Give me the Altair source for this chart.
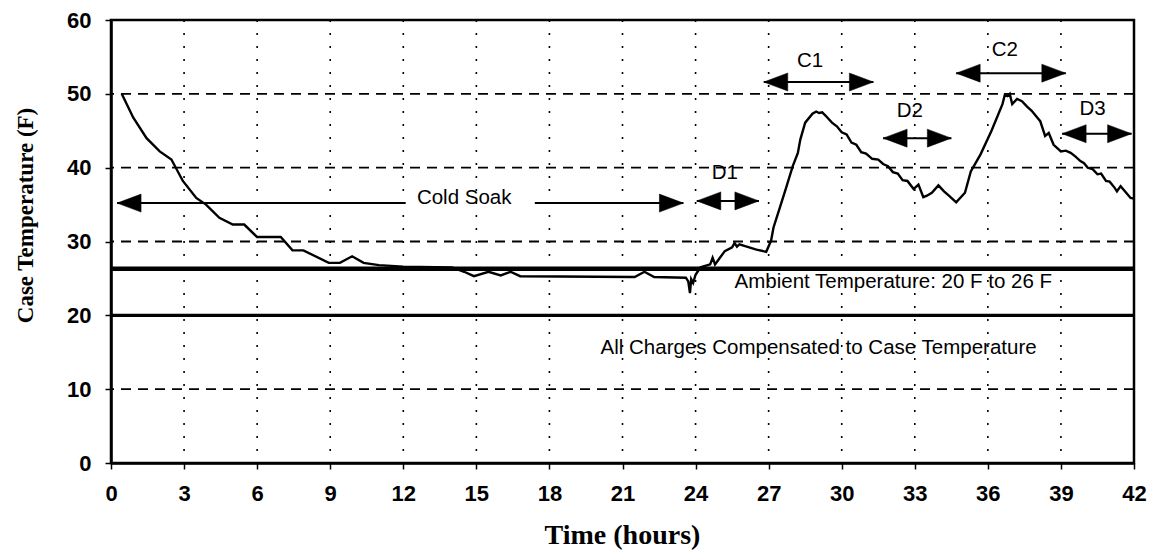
import altair as alt
import pandas as pd

# ---- data ----
time_h = [0.44, 0.91, 1.46, 2.0, 2.48, 2.95, 3.5, 3.9, 4.45, 5.0, 5.47, 6.0, 6.97, 7.45, 7.9,
          8.94, 9.4, 9.9, 10.37, 11.0, 12.0, 14.0, 14.5, 14.9, 15.5, 16.0, 16.4, 16.8, 21.5,
          21.9, 22.3, 23.6, 23.7, 23.77, 23.82, 23.9, 24.0, 24.2, 24.6, 24.7, 24.8, 25.0, 25.2,
          25.5, 25.6, 25.7, 25.8, 26.0, 26.5, 26.9, 27.1, 27.2, 27.45, 27.7, 27.99, 28.2, 28.3,
          28.5, 28.8, 28.95, 29.07, 29.2, 29.35, 29.6, 29.8, 30.0, 30.2, 30.4, 30.6, 30.8, 31.0,
          31.25, 31.5, 31.7, 31.9, 32.1, 32.3, 32.5, 32.7, 32.95, 33.15, 33.35, 33.5, 33.7, 33.97,
          34.2, 34.4, 34.7, 35.06, 35.3, 35.7, 36.15, 36.6, 36.7, 36.8, 36.9, 37.0, 37.2, 37.4,
          37.6, 37.8, 38.0, 38.15, 38.35, 38.5, 38.7, 39.0, 39.2, 39.4, 39.6, 39.8, 39.95, 40.1,
          40.3, 40.5, 40.65, 40.85, 41.0, 41.2, 41.3, 41.45, 41.6, 41.86, 42.0]
case_temp = [50.0, 46.8, 44.0, 42.2, 41.1, 38.2, 35.9, 35.0, 33.2, 32.3, 32.3, 30.6, 30.6, 28.8, 28.8,
             27.1, 27.1, 28.0, 27.1, 26.8, 26.6, 26.5, 25.9, 25.3, 25.9, 25.4, 25.9, 25.3, 25.2,
             25.9, 25.2, 25.1, 24.6, 23.0, 24.9, 24.4, 25.5, 26.5, 26.9, 27.8, 26.9, 27.8, 28.7,
             29.2, 29.8, 29.3, 29.6, 29.4, 28.9, 28.6, 30.1, 31.9, 34.5, 37.1, 40.2, 42.0, 43.8,
             46.1, 47.3, 47.6, 47.4, 47.5, 47.0, 46.1, 45.6, 44.8, 44.5, 43.4, 43.1, 42.1, 41.9,
             41.2, 41.1, 40.5, 40.2, 39.4, 39.2, 38.3, 38.2, 37.1, 37.7, 36.0, 36.2, 36.6, 37.6,
             36.8, 36.2, 35.3, 36.6, 39.5, 41.8, 45.0, 48.6, 49.9, 49.7, 50.0, 48.6, 49.3, 49.0,
             48.3, 47.7, 46.9, 46.3, 44.3, 44.7, 43.1, 42.2, 42.3, 42.0, 41.5, 40.9, 40.6, 40.0,
             39.8, 39.1, 39.2, 38.2, 38.1, 37.3, 36.8, 37.5, 36.9, 35.9, 35.8]

x_ticks = [0, 3, 6, 9, 12, 15, 18, 21, 24, 27, 30, 33, 36, 39, 42]
y_ticks = [0, 10, 20, 30, 40, 50, 60]
h_grid = [10, 30, 40, 50]
v_grid = [3, 6, 9, 12, 15, 18, 21, 24, 27, 30, 33, 36, 39]
ambient_temp = [26.3]
compensated_temp = [20]

# arrow shafts
seg_start = [0.25, 17.4, 24.05, 26.8, 31.7, 34.7, 39.05]
seg_end = [12.1, 23.5, 26.6, 31.3, 34.5, 39.2, 41.9]
seg_y = [35.2, 35.2, 35.5, 51.6, 44.0, 52.8, 44.6]
# arrow heads
left_head_x = [0.25, 24.05, 26.8, 31.7, 34.7, 39.05]
left_head_y = [35.2, 35.5, 51.6, 44.0, 52.8, 44.6]
right_head_x = [23.5, 26.6, 31.3, 34.5, 39.2, 41.9]
right_head_y = [35.2, 35.5, 51.6, 44.0, 52.8, 44.6]

# labels
center_text = ["Cold Soak", "D1", "C1", "D2", "C2", "D3"]
center_x = [14.5, 25.2, 28.7, 32.8, 36.7, 40.3]
center_y = [35.9, 39.3, 54.5, 47.7, 55.9, 48.0]
left_text = ["Ambient Temperature:  20 F to 26 F", "All Charges Compensated to Case Temperature"]
left_x = [25.6, 20.1]
left_y = [24.5, 15.6]

# ---- build ----
xs = alt.Scale(domain=[0, 42], nice=False, zero=False)
ys = alt.Scale(domain=[0, 60], nice=False, zero=False)

x_axis = alt.Axis(values=x_ticks, title="Time (hours)", labelPadding=14, titleFontSize=28,
                  titleX=511, titleY=72, titleBaseline="middle", labelFlush=False)
y_axis = alt.Axis(values=y_ticks, title="Case Temperature (F)", labelPadding=14, titleFontSize=23,
                  titleX=-86, titleY=195, titleAngle=270, titleAlign="center", titleBaseline="middle")


def X(field):
    return alt.X(field, scale=xs, axis=x_axis)


def Y(field):
    return alt.Y(field, scale=ys, axis=y_axis)


curve_df = pd.DataFrame({"t": time_h, "temp": case_temp})

curve = alt.Chart(curve_df).mark_line(color="black", strokeWidth=2.4).encode(
    x=X("t:Q"), y=Y("temp:Q"),
)

hgrid = alt.Chart(pd.DataFrame({"y": h_grid})).mark_rule(
    color="black", strokeWidth=1.8, strokeDash=[10, 7]
).encode(y=Y("y:Q"))

vgrid = alt.Chart(pd.DataFrame({"x": v_grid})).mark_rule(
    color="black", strokeWidth=1.6, strokeDash=[2, 11]
).encode(x=X("x:Q"))

amb = alt.Chart(pd.DataFrame({"y": ambient_temp})).mark_rule(
    color="black", strokeWidth=4.5
).encode(y=Y("y:Q"))

comp = alt.Chart(pd.DataFrame({"y": compensated_temp})).mark_rule(
    color="black", strokeWidth=3.2
).encode(y=Y("y:Q"))

segs = alt.Chart(pd.DataFrame({"a": seg_start, "b": seg_end, "y": seg_y})).mark_rule(
    color="black", strokeWidth=2
).encode(x=X("a:Q"), x2="b:Q", y=Y("y:Q"))

right_shape = "M0,0L-2,-0.75L-2,0.75Z"
left_shape = "M0,0L2,-0.75L2,0.75Z"

lheads = alt.Chart(pd.DataFrame({"x": left_head_x, "y": left_head_y})).mark_point(
    shape=left_shape, filled=True, fill="black", stroke="black", strokeWidth=0.5, size=576, opacity=1
).encode(x=X("x:Q"), y=Y("y:Q"))

rheads = alt.Chart(pd.DataFrame({"x": right_head_x, "y": right_head_y})).mark_point(
    shape=right_shape, filled=True, fill="black", stroke="black", strokeWidth=0.5, size=576, opacity=1
).encode(x=X("x:Q"), y=Y("y:Q"))

ctext = alt.Chart(pd.DataFrame({"txt": center_text, "x": center_x, "y": center_y})).mark_text(
    font="Liberation Sans", fontSize=20.5, color="black", align="center", baseline="middle"
).encode(x=X("x:Q"), y=Y("y:Q"), text="txt:N")

ltext = alt.Chart(pd.DataFrame({"txt": left_text, "x": left_x, "y": left_y})).mark_text(
    font="Liberation Sans", fontSize=20.5, color="black", align="left", baseline="middle"
).encode(x=X("x:Q"), y=Y("y:Q"), text="txt:N")

chart = alt.layer(
    hgrid, vgrid, comp, amb, curve, segs, lheads, rheads, ctext, ltext
).properties(
    width=1023, height=443,
    autosize=alt.AutoSizeParams(type="none"),
    padding={"left": 103, "top": 12, "right": 14, "bottom": 87},
    background="white",
).configure_view(
    stroke="black", strokeWidth=2.5
).configure_axis(
    grid=False, domainColor="black", domainWidth=2.5, tickColor="black", tickWidth=1.5,
    tickSize=6, labelColor="black", labelFont="Liberation Sans", labelFontWeight="bold",
    labelFontSize=22, titleColor="black", titleFont="Liberation Serif", titleFontWeight="bold",
)

chart.save("out.html", embed_options={"renderer": "svg", "actions": False})
